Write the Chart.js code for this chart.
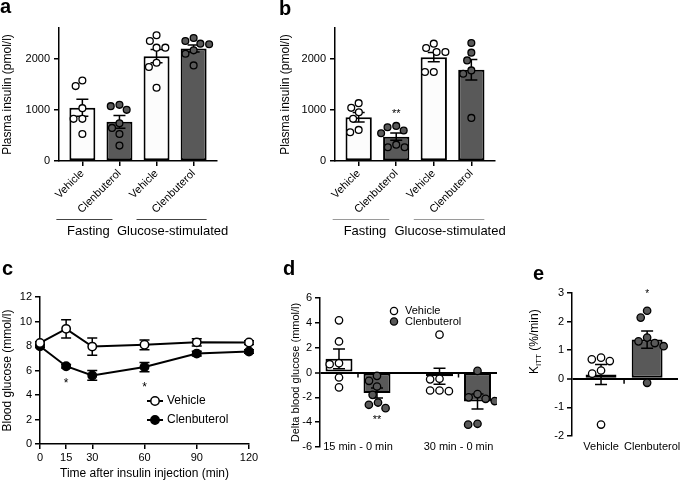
<!DOCTYPE html>
<html lang="en">
<head>
<meta charset="UTF-8">
<title>Clenbuterol - insulin and glucose</title>
<script src="https://cdn.jsdelivr.net/npm/chart.js"></script>
<style>
    * { margin: 0; padding: 0; box-sizing: border-box; }
    body {
        width: 685px;
        height: 481px;
        background: #fff;
        position: relative;
        overflow: hidden;
        font-family: 'Liberation Sans', Arial, sans-serif;
    }
    .panel { position: absolute; }
    .letter {
        position: absolute;
        font-size: 20px;
        line-height: 20px;
        font-weight: bold;
        color: #000;
        z-index: 2;
    }
</style>
</head>
<body>

<div class="letter" style="left:0;top:-4px">a</div>
<div class="letter" style="left:279px;top:-2px">b</div>
<div class="letter" style="left:2px;top:258px">c</div>
<div class="letter" style="left:283px;top:258px">d</div>
<div class="letter" style="left:533px;top:263px">e</div>

<div class="panel" style="left:0;top:0;width:240px;height:250px"><canvas id="chartA"></canvas></div>
<div class="panel" style="left:278px;top:0;width:240px;height:250px"><canvas id="chartB"></canvas></div>
<div class="panel" style="left:0;top:255px;width:280px;height:226px"><canvas id="chartC"></canvas></div>
<div class="panel" style="left:289px;top:255px;width:231px;height:226px"><canvas id="chartD"></canvas></div>
<div class="panel" style="left:527px;top:255px;width:158px;height:226px"><canvas id="chartE"></canvas></div>

<script>
// ---- data ----
const insulinBars = ['Vehicle', 'Clenbuterol', 'Vehicle', 'Clenbuterol'];
const insulinPhases = ['Fasting', 'Glucose-stimulated'];
const insulinTicks = [0, 1000, 2000];

// panel a
const insulinMeanA = [1040, 765, 2050, 2200];
const insulinSemA = [165, 125, 130, 70];
const insulinDotsA = [
    [1575, 1464, 1033, 824, 824, 529],
    [1098, 1072, 1000, 739, 647, 529, 301],
    [2458, 2346, 2216, 2216, 1922, 1837, 1431],
    [2405, 2346, 2294, 2281, 2163, 2098, 1869]
];

// panel b
const insulinMeanB = [855, 475, 2030, 1785];
const insulinSemB = [95, 70, 90, 200];
const insulinDotsB = [
    [1131, 1039, 954, 824, 608, 562],
    [686, 660, 595, 542, 320, 268, 268],
    [2294, 2209, 2131, 2131, 1739, 1739],
    [2307, 2118, 1967, 1771, 1706, 843]
];

// panel c
const ittTimes = [0, 15, 30, 60, 90, 120];
const glucoseVehicle = [8.25, 9.4, 7.95, 8.1, 8.3, 8.28];
const glucoseVehicleSem = [0.1, 0.75, 0.7, 0.4, 0.3, 0.15];
const glucoseClen = [7.98, 6.35, 5.6, 6.28, 7.38, 7.55];
const glucoseClenSem = [0.1, 0.15, 0.4, 0.38, 0.2, 0.15];
const glucoseStarTimes = [15, 60];

// panel d
const deltaGroups = ['15 min - 0 min', '30 min - 0 min'];
const deltaVehicle = [1.1, -0.3];
const deltaVehicleSem = [0.8, 0.65];
const deltaClen = [-1.65, -2.34];
const deltaClenSem = [0.4, 0.6];
const deltaDotsVehicle = [
    [4.2, 2.5, 0.75, 0.67, -0.4, -1.2],
    [3.05, -0.5, -0.55, -1.45, -1.5, -1.45]
];
const deltaDotsClen = [
    [-0.27, -0.67, -1.13, -1.8, -2.42, -2.6, -2.87],
    [0.13, -1.74, -2.0, -2.12, -2.3, -4.2, -4.13]
];

// panel e
const kittGroups = ['Vehicle', 'Clenbuterol'];
const kittMean = [0.15, 1.37];
const kittSem = [0.35, 0.3];
const kittDots = [
    [0.74, 0.68, 0.62, 0.29, 0.18, -1.6],
    [2.38, 2.14, 1.44, 1.31, 1.25, 1.14, -0.14]
];

// ---- look ----
const FONT = "'Liberation Sans', Arial, sans-serif";
const DARK = '#595959';
const LIGHT = '#fcfcfc';
Chart.defaults.font.family = FONT;
Chart.defaults.font.size = 11;
Chart.defaults.color = '#000';
Chart.defaults.animation = false;
Chart.defaults.plugins.legend.display = false;
Chart.defaults.plugins.tooltip.enabled = false;

const axisLine = { display: true, color: '#000', width: 1.5 };
const tickMarks = { display: true, drawOnChartArea: false, offset: false, color: '#000', lineWidth: 1.5, tickLength: 5 };

// ---- plugins ----
function drawErr(chart, i, behind) {
    const ds = chart.data.datasets[i];
    if (!ds.sem || !!ds.errBehind !== behind) return;
    const meta = chart.getDatasetMeta(i);
    const ys = chart.scales[meta.yAxisID];
    const half = (ds.capWidth || 12) / 2;
    const ctx = chart.ctx;
    ctx.save();
    ctx.strokeStyle = '#000';
    ctx.lineWidth = 1.5;
    meta.data.forEach((el, j) => {
        const raw = ds.data[j];
        const m = typeof raw === 'object' ? raw.y : raw;
        const top = ys.getPixelForValue(m + ds.sem[j]);
        const bot = ys.getPixelForValue(m - ds.sem[j]);
        ctx.beginPath();
        ctx.moveTo(el.x, top); ctx.lineTo(el.x, bot);
        ctx.moveTo(el.x - half, top); ctx.lineTo(el.x + half, top);
        ctx.moveTo(el.x - half, bot); ctx.lineTo(el.x + half, bot);
        ctx.stroke();
    });
    ctx.restore();
}

const errorBars = {
    id: 'errorBars',
    beforeDatasetDraw(chart, args) { drawErr(chart, args.index, true); },
    afterDatasetDraw(chart, args) { drawErr(chart, args.index, false); }
};

// spreads the dots of one group sideways so they do not overlap (like a beeswarm)
const swarm = {
    id: 'swarm',
    afterDatasetsUpdate(chart) {
        chart.data.datasets.forEach((ds, i) => {
            if (!ds.link) return;
            const bar = chart.getDatasetMeta(ds.link[0]).data[ds.link[1]];
            const pts = chart.getDatasetMeta(i).data.slice().sort((p, q) => p.y - q.y);
            const d = 2 * ds.pointRadius + 2;
            const placed = [];
            pts.forEach(p => {
                const blocked = placed
                    .filter(q => Math.abs(q.y - p.y) < d)
                    .map(q => {
                        const w = Math.sqrt(d * d - (q.y - p.y) ** 2);
                        return [q.dx - w, q.dx + w];
                    });
                const cands = [0];
                blocked.forEach(b => cands.push(b[0], b[1]));
                cands.sort((u, v) => Math.abs(u) - Math.abs(v));
                let best = 0;
                for (const c of cands) {
                    if (blocked.every(b => c <= b[0] + 1e-6 || c >= b[1] - 1e-6)) { best = c; break; }
                }
                placed.push({ y: p.y, dx: best });
                p.x = bar.x + best;
            });
        });
    }
};

function drawStar(ctx, text, x, cy, size) {
    ctx.save();
    ctx.font = size + 'px ' + FONT;
    ctx.fillStyle = '#000';
    ctx.textAlign = 'center';
    ctx.textBaseline = 'alphabetic';
    ctx.fillText(text, x, cy + 0.57 * size);
    ctx.restore();
}

function drawLabel(ctx, text, x, y) {
    ctx.save();
    ctx.font = '11px ' + FONT;
    ctx.fillStyle = '#000';
    ctx.textAlign = 'center';
    ctx.textBaseline = 'middle';
    ctx.fillText(text, x, y);
    ctx.restore();
}

// significance marks next to a dot group
const stars = {
    id: 'stars',
    afterDatasetsDraw(chart, args, opts) {
        (opts.marks || []).forEach(m => {
            const ds = chart.data.datasets[m.ds];
            const els = chart.getDatasetMeta(m.ds).data;
            const bar = chart.getDatasetMeta(ds.link[0]).data[ds.link[1]];
            const ys = els.map(e => e.y);
            const y = m.side === 'above' ? Math.min(...ys) - m.gap : Math.max(...ys) + m.gap;
            drawStar(chart.ctx, m.text, bar.x, y, m.size || 11);
        });
    }
};

// lines and names under the rotated labels of a and b
const phases = {
    id: 'phases',
    afterDraw(chart, args, opts) {
        const x = chart.scales.x, ctx = chart.ctx;
        const y = chart.chartArea.bottom + 58;
        const trims = [[-26, -7], [-20, 13]];
        ctx.save();
        insulinPhases.forEach((name, k) => {
            const x0 = x.getPixelForValue(2 * k) + trims[k][0];
            const x1 = x.getPixelForValue(2 * k + 1) + trims[k][1];
            ctx.strokeStyle = opts.lineColor;
            ctx.lineWidth = 1;
            ctx.beginPath();
            ctx.moveTo(x0, y + 0.5); ctx.lineTo(x1, y + 0.5);
            ctx.stroke();
            ctx.font = '13px ' + FONT;
            ctx.fillStyle = '#000';
            ctx.textAlign = 'center';
            ctx.textBaseline = 'middle';
            ctx.fillText(name, (x0 + x1) / 2 + (k ? 1 : 4), y + 12);
        });
        ctx.restore();
    }
};

// ---- a and b ----
function insulinChart(id, means, sems, dots, opts) {
    const datasets = [{
        type: 'bar',
        data: means.map((v, i) => ({ x: i, y: v })),
        sem: sems,
        backgroundColor: means.map((_, i) => i % 2 ? DARK : LIGHT),
        borderColor: '#000',
        borderWidth: 2,
        borderSkipped: false,
        barPercentage: 0.7,
        categoryPercentage: 1,
        order: 2
    }];
    dots.forEach((vals, i) => datasets.push({
        type: 'scatter',
        data: vals.map(v => ({ x: i, y: v })),
        link: [0, i],
        pointRadius: 3.4,
        pointBorderWidth: 1.3,
        pointBorderColor: '#000',
        pointBackgroundColor: i % 2 ? DARK : '#fff',
        order: 1
    }));
    return new Chart(document.getElementById(id), {
        type: 'bar',
        data: { datasets },
        options: {
            responsive: true,
            maintainAspectRatio: false,
            layout: { padding: { top: 28, right: 23, left: 0, bottom: 0 } },
            scales: {
                x: {
                    type: 'linear', min: -0.63, max: 3.63, offset: false,
                    border: axisLine, grid: tickMarks,
                    afterBuildTicks: s => { s.ticks = insulinBars.map((_, i) => ({ value: i })); },
                    ticks: { minRotation: 45, maxRotation: 45, autoSkip: false, padding: 1,
                             callback: v => insulinBars[v] },
                    afterFit: s => { s.height = 89; }
                },
                y: {
                    min: 0, max: 2600,
                    border: axisLine, grid: tickMarks,
                    afterBuildTicks: s => { s.ticks = insulinTicks.map(v => ({ value: v })); },
                    ticks: { padding: 4, callback: v => String(v) },
                    title: { display: true, text: 'Plasma insulin (pmol/l)', font: { size: 12 }, padding: 0 },
                    afterFit: s => { s.width = opts.yWidth; }
                }
            },
            plugins: {
                phases: { lineColor: opts.lineColor },
                stars: { marks: opts.marks || [] }
            }
        },
        plugins: [errorBars, swarm, stars, phases]
    });
}

insulinChart('chartA', insulinMeanA, insulinSemA, insulinDotsA, { yWidth: 59, lineColor: '#444' });
insulinChart('chartB', insulinMeanB, insulinSemB, insulinDotsB, {
    yWidth: 57, lineColor: '#9a9a9a',
    marks: [{ ds: 2, text: '**', side: 'above', gap: 15 }]
});

// ---- c ----
const glucoseLegend = {
    id: 'glucoseLegend',
    afterDraw(chart) {
        const ctx = chart.ctx, a = chart.chartArea;
        ctx.save();
        chart.data.datasets.forEach((ds, i) => {
            const x = a.left + 115, y = a.top + 104 + i * 19;
            ctx.strokeStyle = '#000';
            ctx.lineWidth = 2;
            ctx.beginPath();
            ctx.moveTo(x - 8, y); ctx.lineTo(x + 8, y);
            ctx.stroke();
            ctx.beginPath();
            ctx.arc(x, y, 4.2, 0, Math.PI * 2);
            ctx.fillStyle = ds.pointBackgroundColor;
            ctx.fill();
            ctx.lineWidth = 1.5;
            ctx.stroke();
            ctx.fillStyle = '#000';
            ctx.font = '12px ' + FONT;
            ctx.textAlign = 'left';
            ctx.textBaseline = 'middle';
            ctx.fillText(ds.label, x + 12, y);
        });
        // significance under the clenbuterol curve
        const ys = chart.scales.y, xs = chart.scales.x;
        glucoseStarTimes.forEach(t => {
            const j = ittTimes.indexOf(t);
            const y = ys.getPixelForValue(glucoseClen[j] - glucoseClenSem[j]) + 12;
            drawStar(ctx, '*', xs.getPixelForValue(t), y, 12);
        });
        ctx.restore();
    }
};

new Chart(document.getElementById('chartC'), {
    type: 'line',
    data: {
        datasets: [{
            label: 'Vehicle',
            data: ittTimes.map((t, i) => ({ x: t, y: glucoseVehicle[i] })),
            sem: glucoseVehicleSem, errBehind: true, capWidth: 10,
            borderColor: '#000', borderWidth: 2,
            pointRadius: 4.2, pointBorderWidth: 1.5,
            pointBackgroundColor: '#fff', pointBorderColor: '#000',
            clip: false
        }, {
            label: 'Clenbuterol',
            data: ittTimes.map((t, i) => ({ x: t, y: glucoseClen[i] })),
            sem: glucoseClenSem, errBehind: true, capWidth: 10,
            borderColor: '#000', borderWidth: 2,
            pointRadius: 4.2, pointBorderWidth: 1.5,
            pointBackgroundColor: '#000', pointBorderColor: '#000',
            clip: false
        }]
    },
    options: {
        responsive: true,
        maintainAspectRatio: false,
        layout: { padding: { top: 42, right: 31, left: 0, bottom: 0 } },
        scales: {
            x: {
                type: 'linear', min: 0, max: 120,
                border: axisLine, grid: tickMarks,
                afterBuildTicks: s => { s.ticks = ittTimes.map(v => ({ value: v })); },
                ticks: { padding: 2 },
                title: { display: true, text: 'Time after insulin injection (min)', font: { size: 12 }, padding: 0 },
                afterFit: s => { s.height = 37; }
            },
            y: {
                min: 0, max: 12,
                border: axisLine, grid: tickMarks,
                ticks: { stepSize: 2, padding: 3 },
                title: { display: true, text: 'Blood glucose (mmol/l)', font: { size: 12 }, padding: 0 },
                afterFit: s => { s.width = 40; }
            }
        }
    },
    plugins: [errorBars, glucoseLegend]
});

// ---- d and e share: zero line, ticks on it ----
const zeroGrid = {
    display: true, drawOnChartArea: true, drawTicks: true, tickLength: 5,
    color: c => c.tick && c.tick.value === 0 ? '#000' : 'rgba(0,0,0,0)',
    lineWidth: c => c.tick && c.tick.value === 0 ? 2 : 1.5,
    tickColor: '#000', tickWidth: 1.5
};

function zeroTicks(chart, values) {
    const ctx = chart.ctx, y0 = chart.scales.y.getPixelForValue(0);
    ctx.save();
    ctx.strokeStyle = '#000';
    ctx.lineWidth = 1.5;
    values.forEach(v => {
        const x = chart.scales.x.getPixelForValue(v);
        ctx.beginPath();
        ctx.moveTo(x, y0); ctx.lineTo(x, y0 + 5);
        ctx.stroke();
    });
    ctx.restore();
}

// ---- d ----
const deltaExtras = {
    id: 'deltaExtras',
    afterDraw(chart) {
        zeroTicks(chart, deltaGroups.map((_, i) => i));
        const ctx = chart.ctx, a = chart.chartArea;
        // group names sit level with the bottom of the y axis
        deltaGroups.forEach((name, i) => drawLabel(ctx, name, chart.scales.x.getPixelForValue(i), a.bottom));
        ctx.save();
        [0, 1].forEach(i => {
            const ds = chart.data.datasets[i];
            const x = a.left + 74, y = a.top + 13 + i * 10.5;
            ctx.beginPath();
            ctx.arc(x, y, 3.6, 0, Math.PI * 2);
            ctx.fillStyle = i ? DARK : '#fff';
            ctx.fill();
            ctx.strokeStyle = '#000';
            ctx.lineWidth = 1.3;
            ctx.stroke();
            ctx.fillStyle = '#000';
            ctx.font = '11px ' + FONT;
            ctx.textAlign = 'left';
            ctx.textBaseline = 'middle';
            ctx.fillText(ds.label, x + 11, y);
        });
        ctx.restore();
    }
};

const deltaSets = [{
    type: 'bar', label: 'Vehicle',
    data: deltaVehicle.map((v, i) => ({ x: i, y: v })), sem: deltaVehicleSem,
    backgroundColor: LIGHT, borderColor: '#000', borderWidth: 2, borderSkipped: false,
    barPercentage: 0.71, categoryPercentage: 0.756, order: 2
}, {
    type: 'bar', label: 'Clenbuterol',
    data: deltaClen.map((v, i) => ({ x: i, y: v })), sem: deltaClenSem,
    backgroundColor: DARK, borderColor: '#000', borderWidth: 2, borderSkipped: false,
    barPercentage: 0.71, categoryPercentage: 0.756, order: 2
}];
deltaGroups.forEach((_, g) => {
    [deltaDotsVehicle, deltaDotsClen].forEach((dots, s) => deltaSets.push({
        type: 'scatter',
        data: dots[g].map(v => ({ x: g, y: v })),
        link: [s, g],
        pointRadius: 3.7, pointBorderWidth: 1.3, pointBorderColor: '#000',
        pointBackgroundColor: s ? DARK : '#fff',
        order: 1
    }));
});

new Chart(document.getElementById('chartD'), {
    type: 'bar',
    data: { datasets: deltaSets },
    options: {
        responsive: true,
        maintainAspectRatio: false,
        layout: { padding: { top: 43, right: 23, left: 0, bottom: 0 } },
        scales: {
            x: {
                type: 'linear', min: -0.378, max: 1.383, offset: false,
                border: { display: false },
                grid: { display: false, drawTicks: false, offset: false },
                afterBuildTicks: s => { s.ticks = deltaGroups.map((_, i) => ({ value: i })); },
                ticks: { display: false },
                afterFit: s => { s.height = 34; }
            },
            y: {
                min: -6, max: 6,
                border: axisLine, grid: zeroGrid,
                ticks: { stepSize: 2, padding: 3 },
                title: { display: true, text: 'Delta blood glucose (mmol/l)', font: { size: 11 }, padding: 0 },
                afterFit: s => { s.width = 31; }
            }
        },
        plugins: {
            stars: { marks: [{ ds: 3, text: '**', side: 'below', gap: 9 }] }
        }
    },
    plugins: [errorBars, swarm, stars, deltaExtras]
});

// ---- e ----
const kittExtras = {
    id: 'kittExtras',
    afterDraw(chart) {
        zeroTicks(chart, [0.5]);
        const ctx = chart.ctx, a = chart.chartArea;
        const bars = chart.getDatasetMeta(0).data;
        kittGroups.forEach((name, i) => drawLabel(ctx, name, bars[i].x + (i ? 5 : 0), a.bottom + 11));
        // y title with subscript, beside the axis
        ctx.save();
        ctx.translate(8, 119);
        ctx.rotate(-Math.PI / 2);
        ctx.fillStyle = '#000';
        ctx.textAlign = 'left';
        ctx.textBaseline = 'middle';
        ctx.font = '12px ' + FONT;
        ctx.fillText('K', 0, 0);
        let x = ctx.measureText('K').width;
        ctx.font = '8px ' + FONT;
        ctx.fillText('ITT', x, 4);
        x += ctx.measureText('ITT').width;
        ctx.font = '12px ' + FONT;
        ctx.fillText(' (%/min)', x, 0);
        ctx.restore();
    }
};

const kittSets = [{
    type: 'bar',
    data: kittMean.map((v, i) => ({ x: i, y: v })), sem: kittSem,
    backgroundColor: ['#d6d6d6', DARK], borderColor: '#000', borderWidth: 2, borderSkipped: false,
    barPercentage: 0.67, categoryPercentage: 1, order: 2
}];
kittDots.forEach((vals, i) => kittSets.push({
    type: 'scatter',
    data: vals.map(v => ({ x: i, y: v })),
    link: [0, i],
    pointRadius: 3.7, pointBorderWidth: 1.3, pointBorderColor: '#000',
    pointBackgroundColor: i ? DARK : '#fff',
    order: 1
}));

new Chart(document.getElementById('chartE'), {
    type: 'bar',
    data: { datasets: kittSets },
    options: {
        responsive: true,
        maintainAspectRatio: false,
        layout: { padding: { top: 38, right: 7, left: 0, bottom: 0 } },
        scales: {
            x: {
                type: 'linear', min: -0.63, max: 1.67, offset: false,
                border: { display: false },
                grid: { display: false, drawTicks: false, offset: false },
                afterBuildTicks: s => { s.ticks = kittGroups.map((_, i) => ({ value: i })); },
                ticks: { display: false },
                afterFit: s => { s.height = 45; }
            },
            y: {
                min: -2, max: 3,
                border: axisLine, grid: zeroGrid,
                ticks: { stepSize: 1, padding: 3 },
                afterFit: s => { s.width = 45; }
            }
        },
        plugins: {
            stars: { marks: [{ ds: 2, text: '*', side: 'above', gap: 19, size: 10 }] }
        }
    },
    plugins: [errorBars, swarm, stars, kittExtras]
});
</script>
</body>
</html>
